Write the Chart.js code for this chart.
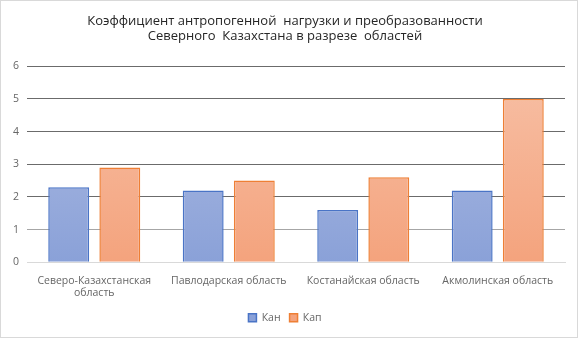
<!DOCTYPE html>
<html>
<head>
<meta charset="utf-8">
<script src="https://cdn.jsdelivr.net/npm/chart.js@4"></script>
<style>
  html, body { margin: 0; padding: 0; background: #fff; }
  #wrap { width: 576px; height: 336px; border: 1px solid #d9d9d9; position: relative; }
</style>
</head>
<body>
<div id="wrap"><canvas id="chart"></canvas></div>
<script>
// chart data
const categories = [['Северо-Казахстанская', 'область'], 'Павлодарская область', 'Костанайская область', 'Акмолинская область'];
const kanValues = [2.3, 2.2, 1.6, 2.2];
const kapValues = [2.9, 2.5, 2.6, 5.0];
const seriesNames = ['Кан', 'Кап'];
const titleLines = ['Коэффициент антропогенной  нагрузки и преобразованности', 'Северного  Казахстана в разрезе  областей'];

function gradient(top, bottom) {
    return function(context) {
        const area = context.chart.chartArea;
        if (!area) return bottom;
        const g = context.chart.ctx.createLinearGradient(0, area.top, 0, area.bottom);
        g.addColorStop(0, top);
        g.addColorStop(1, bottom);
        return g;
    };
}

new Chart(document.getElementById('chart'), {
    type: 'bar',
    data: {
        labels: categories,
        datasets: [
            {
                label: seriesNames[0],
                data: kanValues,
                backgroundColor: gradient('#b0bde3', '#8aa1d8'),
                borderColor: '#4a74c6',
                borderWidth: 1.5,
                categoryPercentage: 0.76,
                barPercentage: 0.8
            },
            {
                label: seriesNames[1],
                data: kapValues,
                backgroundColor: gradient('#f7c0a6', '#f4a37d'),
                borderColor: '#ee7f35',
                borderWidth: 1.5,
                categoryPercentage: 0.76,
                barPercentage: 0.8
            }
        ]
    },
    options: {
        responsive: true,
        maintainAspectRatio: false,
        animation: false,
        layout: { padding: { left: 4, right: 12, top: 4, bottom: 4 } },
        scales: {
            x: {
                grid: { display: false },
                border: { color: '#d9d9d9', width: 1 },
                ticks: {
                    color: '#666666',
                    font: { family: 'Open Sans', size: 10.5 },
                    maxRotation: 0,
                    autoSkip: false,
                    padding: 4
                }
            },
            y: {
                min: 0,
                max: 6,
                ticks: {
                    stepSize: 1,
                    color: '#666666',
                    font: { family: 'Open Sans', size: 10.5 },
                    padding: 8
                },
                border: { display: false },
                grid: {
                    drawTicks: false,
                    color: function(ctx) {
                        if (ctx.tick && ctx.tick.value === 0) return '#d9d9d9';
                        if (ctx.tick && ctx.tick.value === 1) return '#a6a6a6';
                        return '#6b6b6b';
                    }
                }
            }
        },
        plugins: {
            title: {
                display: true,
                text: titleLines,
                color: '#262626',
                font: { family: 'Open Sans', size: 13, weight: 'normal' },
                padding: { top: 8, bottom: 22 },
                lineHeight: 1.55
            },
            legend: {
                position: 'bottom',
                labels: {
                    color: '#666666',
                    font: { family: 'Open Sans', size: 10.5 },
                    boxWidth: 8,
                    boxHeight: 8,
                    padding: 9
                }
            },
            tooltip: { enabled: false }
        }
    }
});
</script>
</body>
</html>
